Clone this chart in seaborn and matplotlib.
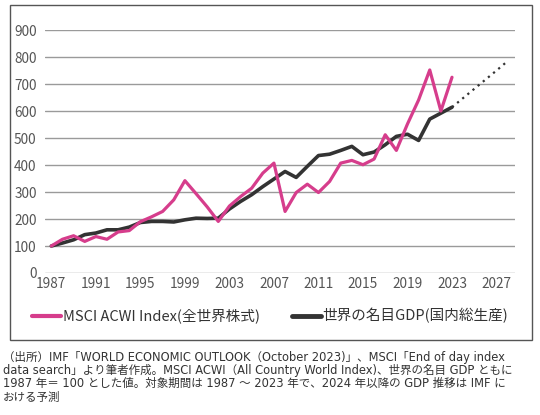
import numpy as np
import pandas as pd
import matplotlib
matplotlib.use("Agg")
import matplotlib.pyplot as plt
from matplotlib.patches import Rectangle
from matplotlib.lines import Line2D
import seaborn as sns

# ── Data (1987 = 100) ───────────────────────────────────────────
years = list(range(1987, 2024))
msci = [100, 125, 138, 117, 135, 125, 152, 157, 190, 208, 228, 271, 342, 294, 245,
        191, 248, 283, 314, 370, 407, 228, 298, 329, 298, 339, 407, 417, 401, 422,
        512, 454, 552, 641, 752, 600, 725]
gdp = [100, 111, 123, 142, 148, 160, 160, 170, 187, 191, 191, 189, 197, 203, 202,
       203, 237, 265, 290, 320, 348, 376, 354, 395, 435, 440, 454, 469, 438, 448,
       475, 506, 514, 491, 570, 592, 614]
forecast_years = [2023, 2024, 2025, 2026, 2027, 2028]
gdp_forecast = [614, 648, 682, 716, 750, 785]

yticks = list(range(0, 1000, 100))
xticks = list(range(1987, 2028, 4))

label_msci = "MSCI ACWI Index(全世界株式)"
label_gdp = "世界の名目GDP(国内総生産)"
caption = ("（出所）IMF「WORLD ECONOMIC OUTLOOK（October 2023)」、MSCI「End of day index\n"
           "data search」より筆者作成。MSCI ACWI（All Country World Index)、世界の名目 GDP ともに\n"
           "1987 年＝ 100 とした値。対象期間は 1987 ～ 2023 年で、2024 年以降の GDP 推移は IMF に\n"
           "おける予測")

PINK = "#D63D8C"
DARK = "#333333"

sns.set_theme(style="white")
plt.rcParams["font.family"] = ["Noto Sans CJK JP", "DejaVu Sans"]

df = pd.DataFrame({"year": years, "msci": msci, "gdp": gdp})
df_fc = pd.DataFrame({"year": forecast_years, "gdp": gdp_forecast})

fig = plt.figure(figsize=(5.4, 4.15), dpi=100)
ax = fig.add_axes([45 / 540, 1 - 273 / 415, 470 / 540, 243 / 415])

for y in yticks:
    ax.axhline(y, color="#9a9a9a", linewidth=1.0, zorder=0)

sns.lineplot(data=df_fc, x="year", y="gdp", ax=ax, color=DARK, linewidth=1.6,
             linestyle=(0, (1, 2)), zorder=2)
sns.lineplot(data=df, x="year", y="gdp", ax=ax, color=DARK, linewidth=2.6, zorder=3)
sns.lineplot(data=df, x="year", y="msci", ax=ax, color=PINK, linewidth=2.3, zorder=4)

ax.set_xlim(1986.43, 2028.66)
ax.set_ylim(0, 900)
ax.set_xticks(xticks)
ax.set_yticks(yticks)
ax.set_xlabel("")
ax.set_ylabel("")
for s in ax.spines.values():
    s.set_visible(False)
ax.tick_params(axis="both", length=0, labelsize=9.8, labelcolor="#555555")
ax.tick_params(axis="y", pad=6)
ax.tick_params(axis="x", pad=3)

handles = [Line2D([], [], color=PINK, linewidth=3),
           Line2D([], [], color=DARK, linewidth=3.5)]
fig.legend(handles, [label_msci, label_gdp], loc="center", ncol=2,
           bbox_to_anchor=(270 / 540, 1 - 316 / 415), frameon=False,
           fontsize=10.5, handlelength=2.0, handletextpad=0.1,
           columnspacing=2.2, labelcolor="#333333")

fig.patches.append(Rectangle((10 / 540, 1 - 340 / 415), 522 / 540, 335 / 415,
                             transform=fig.transFigure, fill=False,
                             edgecolor="#555555", linewidth=1.0))

fig.text(3 / 540, 1 - 351 / 415, caption, ha="left", va="top", fontsize=8.3,
         color="#333333", linespacing=1.02,
         family=["DejaVu Sans", "Noto Sans CJK JP"])

fig.savefig("out.png", dpi=100)
